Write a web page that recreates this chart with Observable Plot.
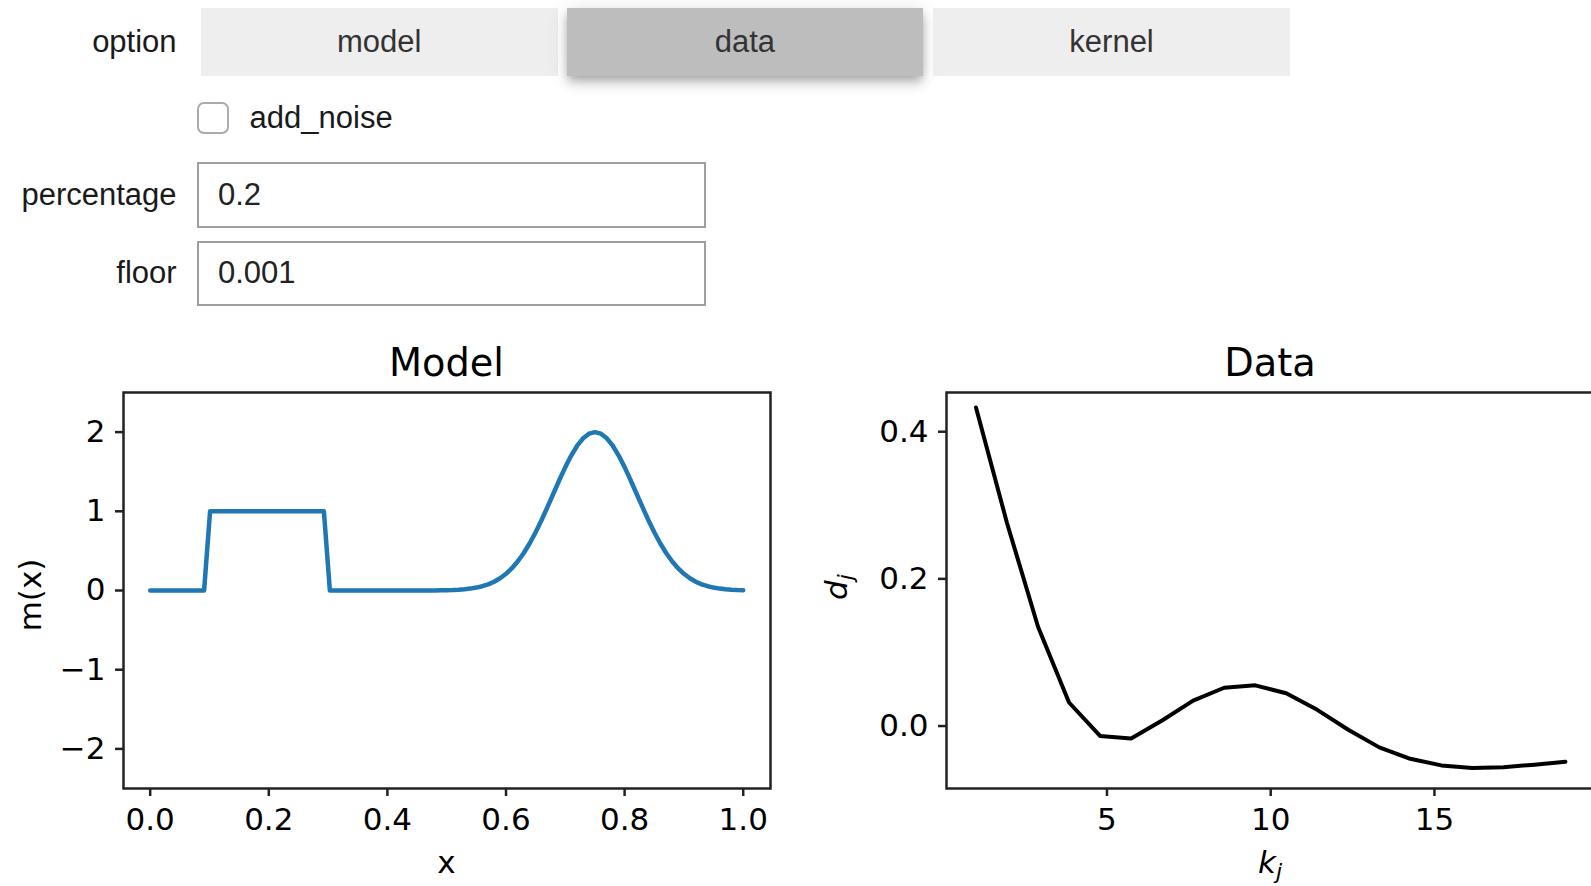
<!DOCTYPE html>
<html>
<head>
<meta charset="utf-8">
<script src="https://cdn.jsdelivr.net/npm/d3@7"></script>
<script src="https://cdn.jsdelivr.net/npm/@observablehq/plot@0.6"></script>
<style>
  html, body { margin: 0; padding: 0; overflow: hidden; background: #fff; }
  #root { position: relative; width: 1591px; height: 886px; overflow: hidden; background: #fff; }
  .w { position: absolute; font-family: "Liberation Sans", Arial, sans-serif; font-size: 31px; display: flex; align-items: center; box-sizing: border-box; }
  .lbl { left: 0; width: 176.6px; justify-content: flex-end; color: #1a1a1a; }
  .btn { top: 8.3px; width: 356.5px; height: 67.7px; background: #eeeeee; color: #333; justify-content: center; }
  .btn.active { background: #bdbdbd; box-shadow: 0 8px 10px 0 rgba(0,0,0,.14), 0 2px 20px 0 rgba(0,0,0,.12), 0 4px 8px -2px rgba(0,0,0,.2); }
  .cb { left: 197px; top: 101.5px; width: 32px; height: 32px; border: 2px solid #aaaaaa; border-radius: 7px; background: #fff; }
  .cbt { left: 249.6px; top: 100px; height: 36px; color: #1a1a1a; }
  .inp { left: 197px; width: 508.5px; border: 2px solid #9e9e9e; padding-left: 19px; color: #222; background: #fff; }
  .plot { position: absolute; top: 330px; }
</style>
</head>
<body>
<div id="root">
  <div class="w lbl" style="top:8.3px;height:67.7px">option</div>
  <div class="w btn" style="left:201px">model</div>
  <div class="w btn active" style="left:566.7px">data</div>
  <div class="w btn" style="left:933.3px">kernel</div>
  <div class="w cb"></div>
  <div class="w cbt">add_noise</div>
  <div class="w lbl" style="top:162.3px;height:66px">percentage</div>
  <div class="w inp" style="top:162.3px;height:66px">0.2</div>
  <div class="w lbl" style="top:240.5px;height:65px">floor</div>
  <div class="w inp" style="top:240.5px;height:65px">0.001</div>
</div>
<script>
// ---- Model panel data: m(x) ----
const modelX = [0, 0.0909, 0.101, 0.2929, 0.303, 0.40, 0.47, 0.48, 0.49,
  0.50, 0.51, 0.52, 0.53, 0.54, 0.55, 0.56, 0.57, 0.58, 0.59,
  0.60, 0.61, 0.62, 0.63, 0.64, 0.65, 0.66, 0.67, 0.68, 0.69,
  0.70, 0.71, 0.72, 0.73, 0.74, 0.75, 0.76, 0.77, 0.78, 0.79,
  0.80, 0.81, 0.82, 0.83, 0.84, 0.85, 0.86, 0.87, 0.88, 0.89,
  0.90, 0.91, 0.92, 0.93, 0.94, 0.95, 0.96, 0.97, 0.98, 0.99, 1.00];
const modelY = [0, 0, 1, 1, 0, 0, 0.000, 0.001, 0.002,
  0.004, 0.006, 0.010, 0.016, 0.024, 0.037, 0.054, 0.078, 0.111, 0.155,
  0.211, 0.282, 0.369, 0.474, 0.596, 0.736, 0.890, 1.055, 1.225, 1.395,
  1.558, 1.704, 1.828, 1.922, 1.980, 2.000, 1.980, 1.922, 1.828, 1.704,
  1.558, 1.395, 1.225, 1.055, 0.890, 0.736, 0.596, 0.474, 0.369, 0.282,
  0.211, 0.155, 0.111, 0.078, 0.054, 0.037, 0.024, 0.016, 0.010, 0.006, 0.004];
const modelXTicks = [0, 0.2, 0.4, 0.6, 0.8, 1.0];
const modelYTicks = [-2, -1, 0, 1, 2];

// ---- Data panel data: d_j vs k_j ----
const kj = [1, 1.947, 2.895, 3.842, 4.789, 5.737, 6.684, 7.632, 8.579, 9.526,
  10.474, 11.421, 12.368, 13.316, 14.263, 15.211, 16.158, 17.105, 18.053, 19];
const dj = [0.433, 0.276, 0.135, 0.032, -0.0135, -0.017, 0.0075, 0.0345, 0.052, 0.0553,
  0.0445, 0.022, -0.005, -0.029, -0.0445, -0.0535, -0.057, -0.056, -0.0525, -0.0485];
const dataXTicks = [5, 10, 15];
const dataYTicks = [0.0, 0.2, 0.4];

const modelRows = modelX.map((x, i) => ({x, y: modelY[i]}));
const dataRows = kj.map((k, i) => ({k, d: dj[i]}));

const root = document.getElementById("root");
const frameColor = "#222";
const common = {
  height: 556,
  marginTop: 62,
  marginBottom: 98,
  style: {fontFamily: "DejaVu Sans", fontSize: "31px", color: "#000", background: "transparent"}
};

const modelPlot = Plot.plot({
  ...common,
  width: 800,
  marginLeft: 123,
  marginRight: 30,
  x: {domain: [-0.045, 1.046]},
  y: {domain: [-2.5, 2.5]},
  marks: [
    Plot.axisX({ticks: modelXTicks, tickFormat: d3.format(".1f"), tickSize: 8, tickPadding: 11,
      stroke: frameColor, strokeWidth: 2.5, fontSize: 31, label: null}),
    Plot.axisY({ticks: modelYTicks, tickFormat: d3.format("d"), tickSize: 8, tickPadding: 10,
      stroke: frameColor, strokeWidth: 2.5, fontSize: 31, label: null}),
    Plot.line(modelRows, {x: "x", y: "y", stroke: "#1f77b4", strokeWidth: 4.5, strokeLinejoin: "round"}),
    Plot.frame({stroke: frameColor, strokeWidth: 2.5})
  ]
});
modelPlot.classList.add("plot");
modelPlot.style.left = "0px";
root.appendChild(modelPlot);

const dataPlot = Plot.plot({
  ...common,
  width: 800,
  marginLeft: 146,
  marginRight: 5.6,
  x: {domain: [0.1, 19.9]},
  y: {domain: [-0.0849, 0.4533]},
  marks: [
    Plot.axisX({ticks: dataXTicks, tickFormat: d3.format("d"), tickSize: 8, tickPadding: 11,
      stroke: frameColor, strokeWidth: 2.5, fontSize: 31, label: null}),
    Plot.axisY({ticks: dataYTicks, tickFormat: d3.format(".1f"), tickSize: 8, tickPadding: 10,
      stroke: frameColor, strokeWidth: 2.5, fontSize: 31, label: null}),
    Plot.line(dataRows, {x: "k", y: "d", stroke: "#000", strokeWidth: 4, strokeLinejoin: "round"}),
    Plot.frame({stroke: frameColor, strokeWidth: 2.5})
  ]
});
dataPlot.classList.add("plot");
dataPlot.style.left = "800px";
root.appendChild(dataPlot);

// ---- titles and axis labels ----
const ov = d3.select(root).append("svg")
  .attr("width", 1591).attr("height", 886)
  .style("position", "absolute").style("left", "0px").style("top", "0px")
  .style("pointer-events", "none")
  .attr("font-family", "DejaVu Sans").attr("fill", "#000");

ov.append("text").attr("x", 446.5).attr("y", 376).attr("text-anchor", "middle").attr("font-size", 38.3).text("Model");
ov.append("text").attr("x", 1270).attr("y", 376).attr("text-anchor", "middle").attr("font-size", 38.3).text("Data");
ov.append("text").attr("x", 446.5).attr("y", 872.5).attr("text-anchor", "middle").attr("font-size", 31).text("x");
ov.append("text").attr("transform", "translate(40.5,595) rotate(-90)").attr("text-anchor", "middle").attr("font-size", 31).text("m(x)");

const kl = ov.append("text").attr("x", 1270).attr("y", 873).attr("text-anchor", "middle").attr("font-size", 31).attr("font-style", "italic");
kl.append("tspan").text("k");
kl.append("tspan").attr("font-size", 22).attr("dy", 6).text("j");

const dl = ov.append("text").attr("transform", "translate(847,587) rotate(-90)").attr("text-anchor", "middle").attr("font-size", 31).attr("font-style", "italic");
dl.append("tspan").text("d");
dl.append("tspan").attr("font-size", 22).attr("dy", 6).text("j");
</script>
</body>
</html>
